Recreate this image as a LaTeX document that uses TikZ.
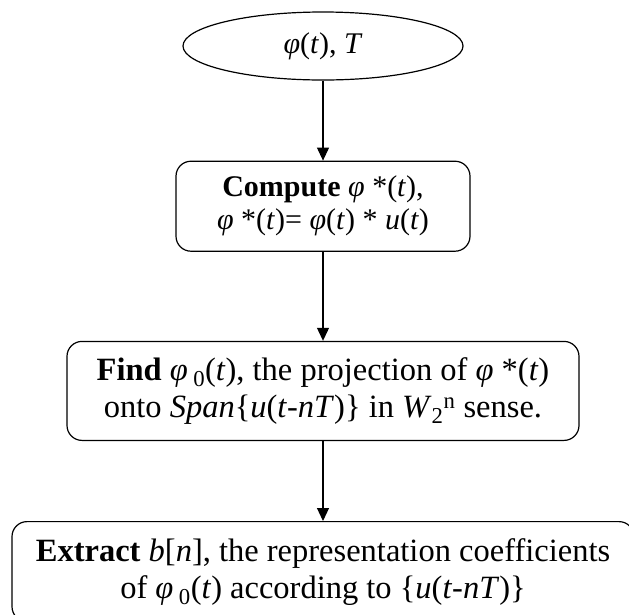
\documentclass[tikz,border=0pt]{standalone}
\usepackage{fontspec}
\setmainfont{Liberation Serif}
\usetikzlibrary{positioning, arrows.meta, shapes.geometric}

\tikzset{
  inbox/.style={ellipse, draw, line width=1.2pt, minimum width=280pt, minimum height=68pt, inner sep=0pt},
  stepbox/.style={rectangle, draw, rounded corners=15pt, line width=1.2pt, align=center, inner sep=0pt},
  bigtext/.style={font=\fontsize{32.5}{37}\selectfont},
  flow/.style={-{Triangle[width=12pt,length=13pt]}, line width=1.1pt}
}
\newcommand{\ph}{\textit{φ}}

\begin{document}
\begin{tikzpicture}[font=\fontsize{30}{33}\selectfont, node distance=80pt]
\useasboundingbox (0,0) rectangle (629pt,-614pt);
\node[inbox] (input) at (323pt,-46pt) {\ph(\textit{t}), \textit{T}};
\node[stepbox, minimum width=294pt, minimum height=90pt, below=80pt of input] (compute)
  {\textbf{Compute} \ph\ *(\textit{t}),\\ \ph\ *(\textit{t})= \ph(\textit{t}) * \textit{u}(\textit{t})};
\node[stepbox, bigtext, minimum width=512pt, minimum height=99pt, below=89pt of compute] (find)
  {\textbf{Find} \ph\,\textsubscript{0}(\textit{t}), the projection of \ph\ *(\textit{t})\\
   onto \textit{Span}\{\textit{u}(\textit{t}-\textit{nT})\} in \textit{W}\textsubscript{2}\textsuperscript{n} sense.};
\node[stepbox, bigtext, minimum width=622pt, minimum height=100pt, below=80pt of find] (extract)
  {\textbf{Extract} \textit{b}[\textit{n}], the representation coefficients\\
   of \ph\,\textsubscript{0}(\textit{t}) according to \{\textit{u}(\textit{t}-\textit{nT})\}};
\draw[flow] (input) -- (compute);
\draw[flow] (compute) -- (find);
\draw[flow] (find) -- (extract);
\end{tikzpicture}
\end{document}
